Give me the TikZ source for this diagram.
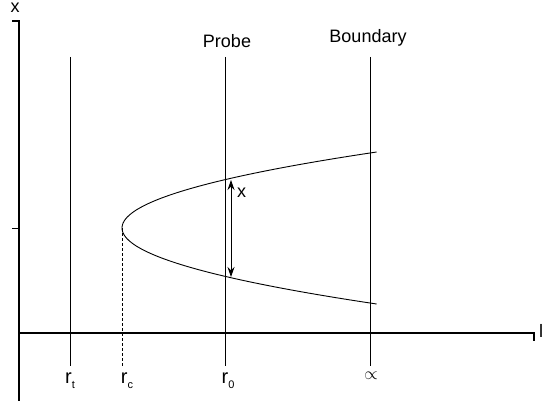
\documentclass[tikz,border=0pt]{standalone}
\usepackage{fontspec}
\setmainfont{Liberation Sans}
\usetikzlibrary{arrows.meta}
\begin{document}
\begin{tikzpicture}[x=1pt,y=-1pt,
  axisline/.style={line width=1.4pt},
  thinline/.style={line width=0.9pt},
  lbl/.style={inner sep=0pt,font=\fontsize{18}{20}\selectfont},
  rlbl/.style={inner sep=0pt,anchor=base,font=\fontsize{20}{22}\selectfont}]
\useasboundingbox (0,0) rectangle (545,406);
% axes
\coordinate (ytop) at (19,21);
\coordinate (ytopL) at (12,21);
\coordinate (ybot) at (19,401);
\coordinate (ymid) at (19,228);
\coordinate (ymidL) at (12,228);
\coordinate (xl) at (19,333);
\coordinate (xr) at (534,333);
\coordinate (xrt) at (534,341);
\draw[axisline] (ytopL) -- (ytop) -- (ybot);
\draw[axisline] (xl) -- (xr) -- (xrt);
\draw[thinline] (ymidL) -- (ymid);
\node[lbl,anchor=base] (xlab) at (15,13) {x};
\node[lbl,anchor=base west] (llab) at (539,337) {l};
% vertical lines
\coordinate (rtT) at (70,57); \coordinate (rtB) at (70,366);
\coordinate (prT) at (225,57); \coordinate (prB) at (225,366);
\coordinate (bdT) at (370,57); \coordinate (bdB) at (370,366);
\coordinate (rcT) at (122,228); \coordinate (rcB) at (122,366);
\draw[thinline] (rtT) -- (rtB);
\draw[thinline] (prT) -- (prB);
\draw[thinline] (bdT) -- (bdB);
\draw[thinline,dash pattern=on 3pt off 2pt] (rcT) -- (rcB);
% parabola
\draw[thinline] plot[domain=-76:76,samples=80,smooth] ({122+0.04409*\x*\x},{228+\x});
% arrow
\coordinate (aT) at (231,180); \coordinate (aB) at (231,277);
\draw[thinline,{Stealth[length=10pt,width=7pt]}-{Stealth[length=10pt,width=7pt]}] (aT) -- (aB);
\node[lbl,anchor=base west] (xarr) at (237,197) {x};
% top labels
\node[lbl,anchor=base] (probe) at (227,48) {Probe};
\node[lbl,anchor=base] (bound) at (368,43) {Boundary};
% bottom labels
\node[rlbl] (rt) at (70,383) {r\raisebox{-5pt}{\fontsize{11}{12}\selectfont t}};
\node[rlbl] (rc) at (127,383) {r\raisebox{-5pt}{\fontsize{11}{12}\selectfont c}};
\node[rlbl] (r0) at (228,383) {r\raisebox{-5pt}{\fontsize{11}{12}\selectfont 0}};
\node[inner sep=0pt,anchor=base] (inf) at (371,379) {\fontsize{16}{18}\selectfont$\propto$};
\end{tikzpicture}
\end{document}
